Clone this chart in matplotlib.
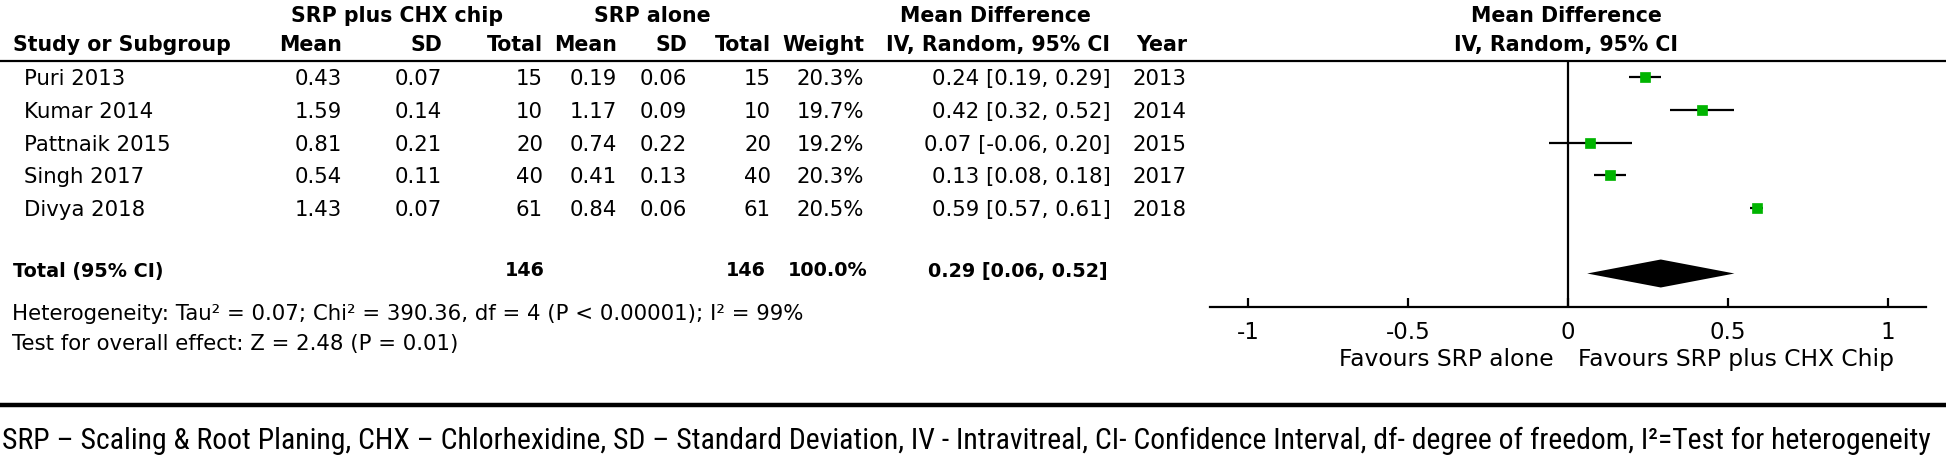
import math
import matplotlib
matplotlib.use("Agg")
import matplotlib.pyplot as plt
from matplotlib import font_manager
from matplotlib.lines import Line2D

# ---------------- data ----------------
studies = ["Puri 2013", "Kumar 2014", "Pattnaik 2015", "Singh 2017", "Divya 2018"]
mean_chx = [0.43, 1.59, 0.81, 0.54, 1.43]
sd_chx = [0.07, 0.14, 0.21, 0.11, 0.07]
n_chx = [15, 10, 20, 40, 61]
mean_srp = [0.19, 1.17, 0.74, 0.41, 0.84]
sd_srp = [0.06, 0.09, 0.22, 0.13, 0.06]
n_srp = [15, 10, 20, 40, 61]
weights = [20.3, 19.7, 19.2, 20.3, 20.5]
md = [0.24, 0.42, 0.07, 0.13, 0.59]
ci_lo = [0.19, 0.32, -0.06, 0.08, 0.57]
ci_hi = [0.29, 0.52, 0.20, 0.18, 0.61]
years = [2013, 2014, 2015, 2017, 2018]

total_n_chx = 146
total_n_srp = 146
total_weight = 100.0
total_md = 0.29
total_lo = 0.06
total_hi = 0.52

heterogeneity = "Heterogeneity: Tau\u00b2 = 0.07; Chi\u00b2 = 390.36, df = 4 (P < 0.00001); I\u00b2 = 99%"
overall = "Test for overall effect: Z = 2.48 (P = 0.01)"
favours_left = "Favours SRP alone"
favours_right = "Favours SRP plus CHX Chip"
xticks = [-1, -0.5, 0, 0.5, 1]
xtick_labels = ["-1", "-0.5", "0", "0.5", "1"]
footnote = ("SRP \u2013 Scaling & Root Planing, CHX \u2013 Chlorhexidine, SD \u2013 Standard Deviation, "
            "IV - Intravitreal, CI- Confidence Interval, df- degree of freedom, I\u00b2=Test for heterogeneity")

# ---------------- layout ----------------
W, H, DPI = 1946, 461, 100
fig = plt.figure(figsize=(W / DPI, H / DPI), dpi=DPI)
fig.patch.set_facecolor("white")


def fx(x):
    return x / W


def fy(y):
    return 1 - y / H


ROW0, STEP = 77.0, 32.75


def row_y(i):
    return ROW0 + STEP * i


def has_font(name):
    try:
        font_manager.findfont(font_manager.FontProperties(family=name), fallback_to_default=False)
        return True
    except Exception:
        return False


BODY = "DejaVu Sans"


def txt(x, y, s, ha="left", size=15.3, weight="normal", family=BODY):
    return fig.text(fx(x), fy(y), s, ha=ha, va="center_baseline", fontsize=size,
                    fontweight=weight, family=family, color="black")


# header row 1
hb = dict(size=14.8, weight="bold")
txt(397, 14, "SRP plus CHX chip", ha="center", **hb)
txt(652, 14, "SRP alone", ha="center", **hb)
txt(995, 14, "Mean Difference", ha="center", **hb)
txt(1566, 14, "Mean Difference", ha="center", **hb)
# header row 2
txt(13, 43, "Study or Subgroup", **hb)
txt(342, 43, "Mean", ha="right", **hb)
txt(442, 43, "SD", ha="right", **hb)
txt(543, 43, "Total", ha="right", **hb)
txt(617, 43, "Mean", ha="right", **hb)
txt(687, 43, "SD", ha="right", **hb)
txt(771, 43, "Total", ha="right", **hb)
txt(864, 43, "Weight", ha="right", **hb)
txt(998, 43, "IV, Random, 95% CI", ha="center", **hb)
txt(1187, 43, "Year", ha="right", **hb)
txt(1566, 43, "IV, Random, 95% CI", ha="center", **hb)

fig.add_artist(Line2D([0, 1], [fy(61), fy(61)], color="black", lw=1.6, transform=fig.transFigure))

# study rows
for i, s in enumerate(studies):
    y = row_y(i)
    txt(24, y, s)
    txt(342, y, f"{mean_chx[i]:.2f}", ha="right")
    txt(442, y, f"{sd_chx[i]:.2f}", ha="right")
    txt(543, y, f"{n_chx[i]}", ha="right")
    txt(617, y, f"{mean_srp[i]:.2f}", ha="right")
    txt(687, y, f"{sd_srp[i]:.2f}", ha="right")
    txt(771, y, f"{n_srp[i]}", ha="right")
    txt(864, y, f"{weights[i]:.1f}%", ha="right")
    txt(1111, y, f"{md[i]:.2f} [{ci_lo[i]:.2f}, {ci_hi[i]:.2f}]", ha="right")
    txt(1187, y, f"{years[i]}", ha="right")

# total row
tb = dict(size=13.8, weight="bold", family="DejaVu Sans")
ty = 269
txt(13, ty, "Total (95% CI)", **tb)
txt(545, ty, f"{total_n_chx}", ha="right", **tb)
txt(766, ty, f"{total_n_srp}", ha="right", **tb)
txt(868, ty, f"{total_weight:.1f}%", ha="right", **tb)
txt(1108, ty, f"{total_md:.2f} [{total_lo:.2f}, {total_hi:.2f}]", ha="right", **tb)

txt(12, 312, heterogeneity, size=15.3)
txt(12, 342, overall, size=15.3)

# ---------------- forest plot axes ----------------
AX_L, AX_R, AX_T, AX_B = 1209.6, 1926.4, 61.0, 307.0
ax = fig.add_axes([fx(AX_L), fy(AX_B), (AX_R - AX_L) / W, (AX_B - AX_T) / H])
ax.set_facecolor("none")
ax.set_xlim(-1.12, 1.12)
ax.set_ylim((AX_B - ROW0) / STEP, (AX_T - ROW0) / STEP)
for sp in ["left", "right", "top"]:
    ax.spines[sp].set_visible(False)
ax.spines["bottom"].set_linewidth(1.6)
ax.set_yticks([])
ax.set_xticks(xticks)
ax.set_xticklabels(xtick_labels, family=BODY)
ax.tick_params(axis="x", direction="in", length=6.5, width=1.6, pad=10, labelsize=16.5)
ax.axvline(0, color="black", lw=1.6, zorder=1)

green = "#00b400"
for i in range(len(studies)):
    ax.plot([ci_lo[i], ci_hi[i]], [i, i], color="black", lw=1.6, solid_capstyle="butt", zorder=2)
    ax.plot([md[i]], [i], marker="s", ms=7.6 * math.sqrt(weights[i] / 20.0),
            color=green, mec=green, mew=0.5, linestyle="none", zorder=3)

dy = 6
hh = 14 / STEP
ax.fill([total_lo, total_md, total_hi, total_md], [dy, dy - hh, dy, dy + hh],
        color="black", lw=0, zorder=3)

txt(1554, 357, favours_left, ha="right", size=16.8)
txt(1578, 357, favours_right, ha="left", size=16.8)

# ---------------- separator and footnote ----------------
fig.add_artist(Line2D([0, 1], [fy(405), fy(405)], color="black", lw=3.2, transform=fig.transFigure))

fn_family = "DejaVu Sans"
for cand in ["Liberation Sans Narrow", "Roboto Condensed", "Open Sans Condensed", "Lato", "Liberation Sans"]:
    if has_font(cand):
        fn_family = cand
        break
fn = fig.text(fx(2), fy(438), footnote, ha="left", va="center_baseline", fontsize=14,
              family=fn_family, color="black")
fig.canvas.draw()
bb = fn.get_window_extent(renderer=fig.canvas.get_renderer())
fn.set_fontsize(14 * (1940.0 / bb.width))

fig.savefig("out.png", dpi=DPI, facecolor="white")
